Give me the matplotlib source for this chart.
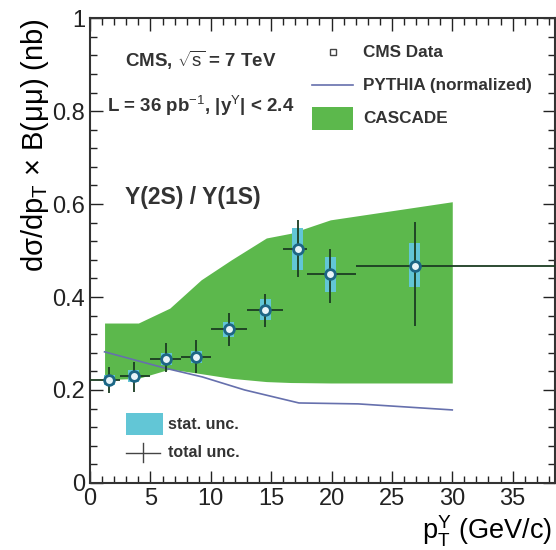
import matplotlib
matplotlib.use("Agg")
import matplotlib.pyplot as plt
import numpy as np
from matplotlib.ticker import MultipleLocator

plt.rcParams['font.family'] = ['Liberation Sans', 'DejaVu Sans']
plt.rcParams['mathtext.fontset'] = 'custom'
plt.rcParams['mathtext.rm'] = 'Liberation Sans'
plt.rcParams['mathtext.it'] = 'Liberation Sans'
plt.rcParams['mathtext.bf'] = 'Liberation Sans:bold'

# CMS ratio Y(2S)/Y(1S)
pt = [1.6, 3.6, 6.3, 8.8, 11.5, 14.5, 17.2, 19.9, 26.9]
bin_lo = [0.0, 2.5, 5.0, 7.5, 10.0, 13.0, 16.0, 18.0, 22.0]
bin_hi = [2.5, 5.0, 7.5, 10.0, 13.0, 16.0, 18.0, 22.0, 50.0]
ratio = [0.221, 0.230, 0.267, 0.271, 0.331, 0.372, 0.503, 0.449, 0.467]
tot_hi = [0.249, 0.260, 0.301, 0.308, 0.366, 0.406, 0.566, 0.503, 0.561]
tot_lo = [0.194, 0.196, 0.239, 0.237, 0.295, 0.335, 0.443, 0.387, 0.338]
stat_hi = [0.232, 0.242, 0.280, 0.284, 0.347, 0.396, 0.548, 0.486, 0.516]
stat_lo = [0.210, 0.218, 0.254, 0.258, 0.315, 0.350, 0.458, 0.411, 0.422]

# CASCADE band
cas_x = [1.2, 4.0, 6.6, 9.2, 11.7, 14.6, 16.6, 19.9, 30.0]
cas_hi = [0.344, 0.344, 0.376, 0.437, 0.480, 0.527, 0.537, 0.566, 0.605]
cas_lo = [0.222, 0.225, 0.245, 0.235, 0.225, 0.218, 0.216, 0.215, 0.215]

# PYTHIA (normalized)
py_x = [1.2, 6.2, 9.3, 12.8, 17.3, 22.2, 30.0]
py_y = [0.282, 0.247, 0.228, 0.200, 0.172, 0.170, 0.157]

green = '#5cb84c'
cyan = '#62c6d6'
pyblue = '#6670ad'
errcol = '#1b3d22'
mkcol = '#1d6685'

fig = plt.figure(figsize=(5.56, 5.5), dpi=100)
ax = fig.add_axes([0.162, 0.122, 0.836, 0.845])

ax.fill_between(cas_x, cas_lo, cas_hi, color=green, lw=0)
ax.plot(py_x, py_y, color=pyblue, lw=1.2)

pt_a = np.array(pt)
ratio_a = np.array(ratio)
sh = np.array(stat_hi)
sl = np.array(stat_lo)
ax.bar(pt_a, sh - sl, bottom=sl, width=0.9, color=cyan, lw=0, zorder=3)

xerr = [pt_a - np.array(bin_lo), np.array(bin_hi) - pt_a]
yerr = [ratio_a - np.array(tot_lo), np.array(tot_hi) - ratio_a]
ax.errorbar(pt_a, ratio_a, xerr=xerr, yerr=yerr, fmt='none', ecolor=errcol,
            elinewidth=1.3, capsize=0, zorder=4)
ax.plot(pt_a, ratio_a, 'o', ms=7, mfc='#e8f4f8', mec=mkcol, mew=2, zorder=5)

ax.set_xlim(0, 38.5)
ax.set_ylim(0, 1)
ax.xaxis.set_major_locator(MultipleLocator(5))
ax.xaxis.set_minor_locator(MultipleLocator(1))
ax.yaxis.set_major_locator(MultipleLocator(0.2))
ax.yaxis.set_minor_locator(MultipleLocator(0.04))
ax.tick_params(which='both', direction='in', top=True, right=True, labelsize=17, colors='#222222')
ax.tick_params(which='major', length=9, width=1)
ax.tick_params(which='minor', length=5, width=1)
ax.tick_params(axis='x', pad=4)
ax.set_yticks([0, 0.2, 0.4, 0.6, 0.8, 1.0])
ax.set_yticklabels(['0', '0.2', '0.4', '0.6', '0.8', '1'])
for s in ax.spines.values():
    s.set_linewidth(1.5)
    s.set_color('#333333')

ax.set_ylabel(r'd$\sigma$/dp$_{\rm T}$ $\times$ B($\mu\mu$) (nb)', fontsize=21, loc='top', labelpad=1)
ax.set_xlabel(r'p$_{\rm T}^{\Upsilon}$ (GeV/c)', fontsize=19.5, loc='right')
ax.xaxis.set_label_coords(0.993, -0.067)

tc = '#333333'
ax.text(0.075, 0.910, r'CMS, $\sqrt{\rm s}$ = 7 TeV', transform=ax.transAxes,
        fontsize=13.5, fontweight='bold', va='center', color=tc)
ax.text(0.037, 0.811, r'L = 36 pb$^{-1}$, |y$^{\Upsilon}$| < 2.4', transform=ax.transAxes,
        fontsize=13.5, fontweight='bold', va='center', color=tc)
ax.text(0.075, 0.615, 'Υ(2S) / Υ(1S)', transform=ax.transAxes,
        fontsize=16.5, fontweight='bold', va='center', color=tc)

# legend upper right
ax.plot([0.523], [0.927], 's', ms=5, mfc='white', mec='#444444', mew=1, transform=ax.transAxes)
ax.plot([0.477, 0.565], [0.856, 0.856], color=pyblue, lw=1.2, transform=ax.transAxes)
ax.add_patch(plt.Rectangle((0.477, 0.759), 0.088, 0.050, color=green, lw=0, transform=ax.transAxes))
for yy, lab in zip([0.927, 0.856, 0.785], ['CMS Data', 'PYTHIA (normalized)', 'CASCADE']):
    ax.text(0.587, yy, lab, transform=ax.transAxes, fontsize=12.3, fontweight='bold',
            va='center', color=tc)

# legend lower left
ax.add_patch(plt.Rectangle((0.077, 0.103), 0.080, 0.048, color=cyan, lw=0, transform=ax.transAxes))
ax.text(0.168, 0.125, 'stat. unc.', transform=ax.transAxes, fontsize=11.5, fontweight='bold',
        va='center', color=tc)
ax.plot([0.077, 0.150], [0.065, 0.065], color='#444444', lw=1, transform=ax.transAxes)
ax.plot([0.1135, 0.1135], [0.045, 0.085], color='#444444', lw=1, transform=ax.transAxes)
ax.text(0.168, 0.065, 'total unc.', transform=ax.transAxes, fontsize=11.5, fontweight='bold',
        va='center', color=tc)

fig.savefig('out.png', dpi=100)
